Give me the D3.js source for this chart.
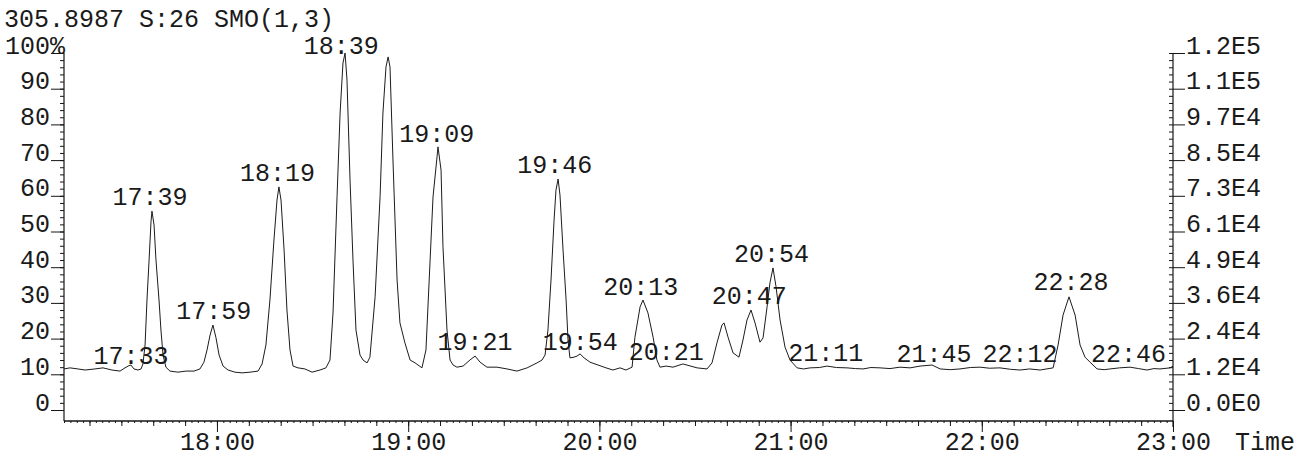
<!DOCTYPE html>
<html>
<head>
<meta charset="utf-8">
<script src="https://cdn.jsdelivr.net/npm/d3@7"></script>
<style>
  html, body { margin: 0; padding: 0; background: #fff; }
  svg { display: block; }
  text { font-family: "Liberation Mono", "Courier New", monospace; fill: #1a1a1a; }
</style>
</head>
<body>
<svg id="chart" width="1313" height="458"></svg>
<script>
// ---------- DATA ----------
const titleText = "305.8987 S:26 SMO(1,3)";

// retention time (minutes, decimal) and relative intensity (%)
const times = [
  17.200,17.231,17.273,17.310,17.362,17.404,17.451,17.493,17.519,17.535,
  17.550,17.566,17.587,17.603,17.613,17.624,17.634,17.645,17.655,17.660,
  17.671,17.681,17.697,17.707,17.718,17.733,17.754,17.796,17.838,17.880,
  17.911,17.932,17.948,17.964,17.979,17.995,18.011,18.032,18.058,18.094,
  18.131,18.173,18.215,18.236,18.256,18.277,18.298,18.314,18.324,18.335,
  18.351,18.366,18.382,18.398,18.424,18.460,18.497,18.539,18.570,18.591,
  18.607,18.628,18.644,18.659,18.670,18.680,18.696,18.712,18.727,18.748,
  18.764,18.785,18.800,18.827,18.853,18.868,18.884,18.895,18.905,18.921,
  18.942,18.957,18.983,19.010,19.036,19.072,19.093,19.114,19.130,19.151,
  19.156,19.172,19.182,19.203,19.219,19.235,19.255,19.287,19.323,19.350,
  19.376,19.412,19.465,19.517,19.569,19.622,19.674,19.700,19.716,19.731,
  19.747,19.763,19.773,19.784,19.794,19.810,19.826,19.836,19.846,19.867,
  19.883,19.899,19.920,19.951,19.993,20.035,20.071,20.108,20.139,20.171,
  20.186,20.213,20.228,20.254,20.281,20.301,20.317,20.349,20.385,20.437,
  20.511,20.563,20.589,20.615,20.641,20.652,20.673,20.699,20.730,20.751,
  20.772,20.793,20.814,20.840,20.856,20.877,20.892,20.908,20.924,20.945,
  20.971,20.997,21.034,21.068,21.102,21.150,21.191,21.240,21.295,21.340,
  21.379,21.420,21.468,21.520,21.572,21.625,21.677,21.740,21.782,21.835,
  21.886,21.940,21.991,22.040,22.095,22.150,22.200,22.250,22.305,22.373,
  22.399,22.425,22.456,22.488,22.514,22.540,22.566,22.603,22.640,22.671,
  22.720,22.775,22.820,22.864,22.900,22.932,22.985,23.000
];
const intensity = [
  11.5,11.8,11.5,11.2,11.5,11.8,11.2,10.9,11.8,12.3,
  12.6,11.5,11.2,11.5,12.9,18.2,30.8,42.0,52.7,55.7,
  51.8,42.0,30.8,22.4,15.4,12.0,10.9,10.6,10.9,10.9,
  11.5,13.4,16.8,21.0,23.8,20.2,15.4,12.3,11.2,10.6,
  10.4,10.6,10.9,12.9,18.2,30.8,47.6,58.8,62.5,58.8,
  44.8,28.0,16.8,12.3,11.8,11.5,10.6,11.2,11.8,14.0,
  27.2,59.7,83.2,97.2,100.0,92.4,64.4,41.2,22.4,15.4,
  14.0,13.2,14.8,31.7,59.7,83.2,96.1,98.9,96.1,69.2,
  36.4,24.4,18.8,14.0,13.2,11.8,16.8,41.2,59.7,70.9,
  73.7,67.2,45.7,22.4,14.0,12.6,12.0,12.3,14.0,15.1,
  13.4,12.0,12.0,11.5,10.9,11.8,13.2,14.0,15.4,22.4,
  36.4,53.2,61.6,64.7,60.2,44.8,30.8,19.6,14.6,14.8,
  15.1,15.7,14.6,13.4,12.6,11.8,11.2,11.8,11.2,12.0,
  20.4,28.9,30.8,27.2,20.4,14.0,12.0,12.3,12.0,12.9,
  11.8,11.5,13.2,18.8,23.8,24.4,20.4,16.0,14.8,19.6,
  25.2,28.0,24.4,19.0,20.2,28.9,35.6,39.8,34.5,25.2,
  17.6,14.0,11.8,11.5,11.8,11.9,12.3,11.9,11.8,11.6,
  11.5,11.9,11.8,11.6,12.0,11.8,12.3,12.6,11.5,11.3,
  11.5,11.9,12.0,11.7,11.8,11.4,11.2,11.5,11.2,11.8,
  18.2,26.6,31.7,26.6,18.2,14.8,13.4,11.5,11.3,11.5,
  11.8,12.0,11.6,11.2,11.6,11.5,11.8,12.3
];

// peak annotations: label text and intensity at which the label sits
const peakLabels  = ["17:33","17:39","17:59","18:19","18:39","19:09","19:21","19:46","19:54",
                     "20:13","20:21","20:47","20:54","21:11","21:45","22:12","22:28","22:46"];
const peakHeights = [11.2, 55.7, 23.8, 62.5, 98.0, 73.4, 15.1, 64.7, 15.1,
                     30.5, 12.3, 28.0, 39.8, 12.0, 11.8, 11.8, 31.9, 11.8];

// axes
const leftTickValues  = [0,10,20,30,40,50,60,70,80,90,100];
const leftTickLabels  = ["0","10","20","30","40","50","60","70","80","90","100%"];
const rightMax = 121000;
const rightTickValues = [0,12100,24200,36300,48400,60500,72600,84700,96800,108900,121000];
const rightTickLabels = ["0.0E0","1.2E4","2.4E4","3.6E4","4.9E4","6.1E4","7.3E4","8.5E4","9.7E4","1.1E5","1.2E5"];
const xTickValues = [18,19,20,21,22,23];
const xTickLabels = ["18:00","19:00","20:00","21:00","22:00","23:00"];
const xAxisTitle = "Time";

// ---------- LAYOUT ----------
const FS = 25;
const svg = d3.select("#chart");
const x = d3.scaleLinear().domain([17.2, 23.0]).range([64, 1173]);
const y = d3.scaleLinear().domain([0, 100]).range([410, 53]);
const yR = d3.scaleLinear().domain([0, rightMax]).range([410, 53]);
const bottomY = y(0) + 11;
const ink = "#151515";

// title
svg.append("text").attr("x", 4).attr("y", 27).attr("font-size", FS).text(titleText);

// ----- left axis -----
const gL = svg.append("g").attr("transform", `translate(${x.range()[0]},0)`);
gL.call(d3.axisLeft(y).tickValues(d3.range(0, 101, 2)).tickSize(4).tickFormat(""));
gL.select(".domain").remove();
const gL2 = svg.append("g").attr("transform", `translate(${x.range()[0]},0)`);
gL2.call(d3.axisLeft(y).tickValues(leftTickValues).tickSize(13).tickPadding(1)
  .tickFormat((d, i) => leftTickLabels[i]));
gL2.select(".domain").remove();
gL2.selectAll("text").attr("dy", 0).attr("font-size", FS).attr("font-family", null)
  .attr("dx", (d, i) => leftTickLabels[i].endsWith("%") ? "0.6em" : 0);
svg.append("line").attr("x1", x.range()[0]).attr("x2", x.range()[0])
  .attr("y1", y(100)).attr("y2", bottomY).attr("stroke", ink).attr("stroke-width", 1.2);

// ----- right axis -----
const xr = x.range()[1];
const gR = svg.append("g").attr("transform", `translate(${xr},0)`);
gR.call(d3.axisLeft(yR).tickValues(d3.range(0, rightMax + 1, rightMax / 50)).tickSize(4).tickFormat(""));
gR.select(".domain").remove();
const gR2 = svg.append("g").attr("transform", `translate(${xr},0)`);
gR2.call(d3.axisRight(yR).tickValues(rightTickValues).tickSize(12).tickPadding(1)
  .tickFormat((d, i) => rightTickLabels[i]));
gR2.select(".domain").remove();
gR2.selectAll("text").attr("dy", 0).attr("font-size", FS).attr("font-family", null);
svg.append("line").attr("x1", xr).attr("x2", xr)
  .attr("y1", yR(rightMax)).attr("y2", bottomY + 6).attr("stroke", ink).attr("stroke-width", 1.2);

// ----- bottom axis -----
const gB0 = svg.append("g").attr("transform", `translate(0,${bottomY})`);
gB0.call(d3.axisBottom(x).tickValues(d3.range(17.2, 23.0001, 1 / 30)).tickSize(2).tickFormat(""));
gB0.select(".domain").remove();
const gB1 = svg.append("g").attr("transform", `translate(0,${bottomY})`);
gB1.call(d3.axisBottom(x).tickValues(d3.range(17 + 2 / 6, 23.0001, 1 / 6)).tickSize(5).tickFormat(""));
gB1.select(".domain").remove();
const gB = svg.append("g").attr("transform", `translate(0,${bottomY})`);
gB.call(d3.axisBottom(x).tickValues(xTickValues).tickSize(11).tickPadding(0)
  .tickFormat((d, i) => xTickLabels[i]));
gB.select(".domain").remove();
gB.selectAll("text").attr("y", 29).attr("dy", 0).attr("font-size", FS).attr("font-family", null);
svg.append("line").attr("x1", x.range()[0]).attr("x2", xr)
  .attr("y1", bottomY).attr("y2", bottomY).attr("stroke", ink).attr("stroke-width", 1.4);
svg.selectAll(".tick line").attr("stroke", ink);
svg.append("text").attr("x", xr + 62).attr("y", bottomY + 29).attr("font-size", FS).text(xAxisTitle);

// ----- trace -----
const pts = times.map((t, i) => [t, intensity[i]]);
svg.append("path").datum(pts)
  .attr("fill", "none").attr("stroke", "#1c1c1c").attr("stroke-width", 1.0)
  .attr("stroke-linejoin", "round")
  .attr("d", d3.line().x(d => x(d[0])).y(d => y(d[1])));

// ----- peak labels -----
const parseT = s => { const [m, sec] = s.split(":").map(Number); return m + sec / 60; };
svg.append("g").selectAll("text").data(peakLabels).join("text")
  .attr("x", d => x(parseT(d)))
  .attr("y", (d, i) => y(peakHeights[i]) - 6)
  .attr("text-anchor", "middle").attr("font-size", FS)
  .text(d => d);
</script>
</body>
</html>
